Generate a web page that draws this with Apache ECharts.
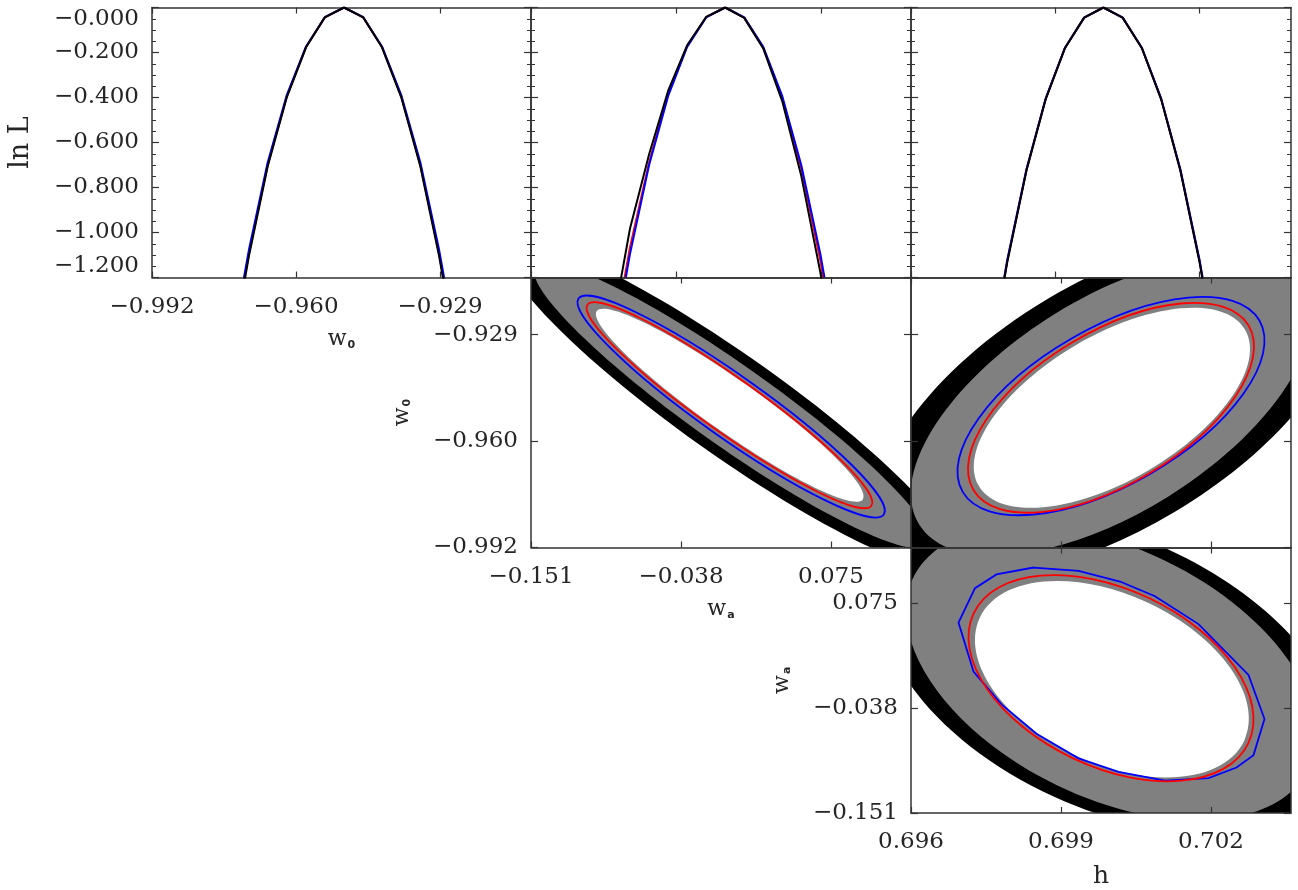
<!DOCTYPE html>
<html>
<head>
<meta charset="utf-8">
<script src="https://cdn.jsdelivr.net/npm/echarts@6/dist/echarts.min.js"></script>
<style>
html, body { margin: 0; padding: 0; background: #fff; }
#chart { width: 1298px; height: 890px; }
</style>
</head>
<body>
<div id="chart"></div>
<script>
// ---- tick labels ----
var w0Ticks = [-0.992, -0.9605, -0.929];
var w0TickText = ['\u22120.992', '\u22120.960', '\u22120.929'];
var waTicks = [-0.151, -0.038, 0.075];
var waTickText = ['\u22120.151', '\u22120.038', '0.075'];
var hTicks = [0.696, 0.699, 0.702];
var hTickText = ['0.696', '0.699', '0.702'];

// axis ranges (1D panels are a little wider than the 2D ones)
var w0Range1D = [-0.992, -0.9091], w0Range2D = [-0.992, -0.9121];
var waRange1D = [-0.151, 0.1445], waRange2D = [-0.151, 0.1353];
var hRange1D = [0.696, 0.7039], hRange2D = [0.696, 0.7036];

// ---- 1D profiles (ln L) ----
var w0Grid = [-0.975, -0.9708, -0.9667, -0.9625, -0.9583, -0.9542, -0.95, -0.9458, -0.9417, -0.9375, -0.9333, -0.9292, -0.925];
var w0Black = [-1.591, -1.105, -0.707, -0.398, -0.177, -0.044, 0, -0.044, -0.177, -0.398, -0.707, -1.105, -1.591];
var w0Red = [-1.575, -1.094, -0.700, -0.394, -0.175, -0.044, 0, -0.044, -0.175, -0.394, -0.700, -1.094, -1.575];
var w0Blue = [-1.551, -1.077, -0.689, -0.388, -0.173, -0.043, 0, -0.043, -0.173, -0.388, -0.689, -1.077, -1.551];

var waGrid = [-0.0888, -0.074, -0.0592, -0.0444, -0.0296, -0.0148, 0, 0.0148, 0.0296, 0.0444, 0.0592, 0.074, 0.0888];
var waBlack = [-1.450, -0.982, -0.653, -0.371, -0.168, -0.042, 0, -0.046, -0.182, -0.417, -0.749, -1.177, -1.704];
var waRed = [-1.540, -1.065, -0.690, -0.385, -0.172, -0.043, 0, -0.045, -0.178, -0.403, -0.715, -1.125, -1.615];
var waBlue = [-1.577, -1.095, -0.701, -0.394, -0.175, -0.044, 0, -0.044, -0.175, -0.394, -0.701, -1.095, -1.577];

var hGrid = [0.6976, 0.698, 0.6984, 0.6988, 0.6992, 0.6996, 0.7, 0.7004, 0.7008, 0.7012, 0.7016, 0.702, 0.7024];
var hBlack = [-1.633, -1.134, -0.726, -0.408, -0.181, -0.045, 0, -0.045, -0.181, -0.408, -0.726, -1.134, -1.633];
var hRed = [-1.625, -1.128, -0.722, -0.406, -0.180, -0.045, 0, -0.045, -0.180, -0.406, -0.722, -1.128, -1.625];
var hBlue = [-1.617, -1.123, -0.719, -0.404, -0.179, -0.045, 0, -0.045, -0.179, -0.404, -0.719, -1.123, -1.617];

// ---- 2D contours: [centre x, centre y, half-width x, half-height y, correlation] ----
// w0 (y) against wa (x)
var bBlack = [0, -0.95, 0.1705, 0.04854, -0.928];
var bGrey = [0, -0.95, 0.1486, 0.04215, -0.939];
var bWhite = [-0.0012, -0.9499, 0.1009, 0.02857, -0.944];
var bBlue = [-0.0002, -0.9503, 0.1158, 0.03283, -0.940];
var bRed = [-0.0015, -0.9499, 0.10765, 0.03047, -0.945];
// w0 (y) against h (x)
var cBlack = [0.7, -0.95, 0.0047, 0.05087, 0.588];
var cGrey = [0.7, -0.95, 0.0040, 0.04437, 0.588];
var cWhite = [0.70002, -0.95065, 0.00276, 0.02958, 0.588];
var cBlue = [0.7, -0.95015, 0.00307, 0.0323, 0.600];
var cRed = [0.7, -0.95065, 0.00286, 0.03106, 0.585];
// wa (y) against h (x)
var dBlack = [0.7, 0, 0.0046, 0.17263, -0.423];
var dGrey = [0.7, 0, 0.0041, 0.15886, -0.423];
var dWhite = [0.70002, -0.0067, 0.00274, 0.10591, -0.40];
var dRed = [0.7, -0.0056, 0.00285, 0.1112, -0.40];
// the blue wa-h contour is a coarse polygon
var dBlueH = [0.69845, 0.69935, 0.70018, 0.70088, 0.70175, 0.70275, 0.70307, 0.70285, 0.70251, 0.70195, 0.70108, 0.70015, 0.69935, 0.69851, 0.69781, 0.69725, 0.69695, 0.69728, 0.69771];
var dBlueWa = [0.1137, 0.1102, 0.0986, 0.0827, 0.0527, -0.0021, -0.0497, -0.0886, -0.1020, -0.1133, -0.1161, -0.1066, -0.0921, -0.0656, -0.0338, 0.0015, 0.0544, 0.0915, 0.1063];

var FONT = 'DejaVu Serif';
var INK = '#333';
var TXT = '#262626';

var grids = [
  {left: 152, top: 7.5, width: 379, height: 270},
  {left: 531, top: 7.5, width: 380, height: 270},
  {left: 911, top: 7.5, width: 380, height: 270},
  {left: 531, top: 277.5, width: 380, height: 270},
  {left: 911, top: 277.5, width: 380, height: 270},
  {left: 911, top: 547.5, width: 380, height: 270}
];

var nameRich = {
  v: {fontFamily: FONT, fontSize: 22, color: TXT, verticalAlign: 'bottom'},
  s: {fontFamily: 'DejaVu Sans', fontSize: 11, fontWeight: 'bold', color: TXT, verticalAlign: 'bottom', padding: [0, 0, 0, 1]}
};

var xSpec = [
  {range: w0Range1D, ticks: w0Ticks, text: w0TickText, label: true, name: '{v|w}{s|0}', gap: 51},
  {range: waRange1D, ticks: waTicks, text: waTickText},
  {range: hRange1D, ticks: hTicks, text: hTickText},
  {range: waRange2D, ticks: waTicks, text: waTickText, label: true, name: '{v|w}{s|a}', gap: 51},
  {range: hRange2D, ticks: hTicks, text: hTickText},
  {range: hRange2D, ticks: hTicks, text: hTickText, label: true, name: 'h', gap: 51, size: 25}
];
var ySpec = [
  {lnL: true, label: true, name: 'ln L', gap: 118, size: 27},
  {lnL: true},
  {lnL: true},
  {range: w0Range2D, ticks: w0Ticks, text: w0TickText, label: true, name: '{v|w}{s|0}', gap: 118},
  {range: w0Range2D, ticks: w0Ticks, text: w0TickText},
  {range: waRange2D, ticks: waTicks, text: waTickText, label: true, name: '{v|w}{s|a}', gap: 118}
];

function fmtFrom(vals, texts) {
  return function (v) {
    for (var i = 0; i < vals.length; i++) {
      if (Math.abs(vals[i] - v) < 1e-7) return texts[i];
    }
    return '';
  };
}

function makeAxis(spec, gi, pos, isY) {
  var primary = (pos === 'bottom' || pos === 'left');
  var ax = {
    type: 'value', gridIndex: gi, position: pos, z: 5,
    axisLine: {show: true, onZero: false, lineStyle: {color: INK, width: 1.5}},
    splitLine: {show: false},
    axisTick: {show: true, inside: true, length: isY ? 7 : 6, lineStyle: {color: INK, width: 1.2}},
    axisLabel: {show: primary && !!spec.label, fontFamily: FONT, fontSize: 23, color: TXT, margin: isY ? 13 : 18}
  };
  if (spec.lnL) {
    ax.min = -1.2; ax.max = 0; ax.interval = 0.2;
    ax.minorTick = {show: true, splitNumber: 4, length: 4, lineStyle: {color: INK, width: 1}};
    ax.axisLabel.formatter = function (v) { return '\u2212' + Math.abs(v).toFixed(3); };
    ax.axisLabel.verticalAlignMinLabel = 'bottom';
    ax.axisLabel.verticalAlignMaxLabel = 'top';
  } else {
    ax.min = spec.range[0]; ax.max = spec.range[1];
    ax.axisTick.customValues = spec.ticks;
    ax.axisLabel.customValues = spec.ticks;
    ax.axisLabel.formatter = fmtFrom(spec.ticks, spec.text);
  }
  if (primary && spec.name) {
    ax.name = spec.name;
    ax.nameLocation = 'middle';
    ax.nameGap = spec.gap;
    ax.nameTextStyle = {fontFamily: FONT, fontSize: spec.size || 22, color: TXT, rich: nameRich};
    if (isY) ax.nameRotate = 90;
  }
  return ax;
}

var xAxes = [], yAxes = [];
for (var g = 0; g < grids.length; g++) {
  xAxes.push(makeAxis(xSpec[g], g, 'bottom', false));
  xAxes.push(makeAxis(xSpec[g], g, 'top', false));
  yAxes.push(makeAxis(ySpec[g], g, 'left', true));
  yAxes.push(makeAxis(ySpec[g], g, 'right', true));
}

function pairs(xs, ys) {
  var out = [];
  for (var i = 0; i < xs.length; i++) out.push([xs[i], ys[i]]);
  return out;
}

function profile(gi, xs, ys, color, z) {
  return {
    type: 'line', xAxisIndex: gi * 2, yAxisIndex: gi * 2, data: pairs(xs, ys),
    showSymbol: false, clip: true, z: z, silent: true,
    lineStyle: {color: color, width: 2}
  };
}

// ellipse given by centre, half extents and correlation, mapped through the axes
function ellipse(gi, p, fill, stroke, lw, z) {
  return {
    type: 'custom', xAxisIndex: gi * 2, yAxisIndex: gi * 2, clip: true, silent: true, z: z,
    data: [[p[0], p[1]]],
    renderItem: function (params, api) {
      var c = api.coord([p[0], p[1]]);
      var s = api.size([p[2], p[3]]);
      var X = Math.abs(s[0]), Y = Math.abs(s[1]);
      var sxy = -p[4] * X * Y;          // screen y grows downwards
      var m = (X * X + Y * Y) / 2;
      var d = Math.sqrt(Math.pow((X * X - Y * Y) / 2, 2) + sxy * sxy);
      var phi = 0.5 * Math.atan2(2 * sxy, X * X - Y * Y);
      return {
        type: 'ellipse', x: c[0], y: c[1], rotation: -phi,
        shape: {cx: 0, cy: 0, rx: Math.sqrt(m + d), ry: Math.sqrt(Math.max(m - d, 0.01))},
        style: {fill: fill, stroke: stroke, lineWidth: lw}
      };
    }
  };
}

function polygon(gi, xs, ys, stroke, lw, z) {
  var pts = pairs(xs, ys);
  return {
    type: 'custom', xAxisIndex: gi * 2, yAxisIndex: gi * 2, clip: true, silent: true, z: z,
    data: pts,
    renderItem: function (params, api) {
      if (params.dataIndex !== 0) return null;
      var p = pts.map(function (d) { return api.coord(d); });
      return {type: 'polygon', shape: {points: p}, style: {fill: 'none', stroke: stroke, lineWidth: lw}};
    }
  };
}

var series = [
  profile(0, w0Grid, w0Red, '#ff0000', 3),
  profile(0, w0Grid, w0Blue, '#0000ff', 4),
  profile(0, w0Grid, w0Black, '#000000', 5),
  profile(1, waGrid, waRed, '#ff0000', 3),
  profile(1, waGrid, waBlue, '#0000ff', 4),
  profile(1, waGrid, waBlack, '#000000', 5),
  profile(2, hGrid, hRed, '#ff0000', 3),
  profile(2, hGrid, hBlue, '#0000ff', 4),
  profile(2, hGrid, hBlack, '#000000', 5),

  ellipse(3, bBlack, '#000000', null, 0, 1),
  ellipse(3, bGrey, '#808080', null, 0, 2),
  ellipse(3, bWhite, '#ffffff', null, 0, 3),
  ellipse(3, bBlue, 'none', '#0000ff', 1.8, 4),
  ellipse(3, bRed, 'none', '#ff0000', 1.8, 5),

  ellipse(4, cBlack, '#000000', null, 0, 1),
  ellipse(4, cGrey, '#808080', null, 0, 2),
  ellipse(4, cWhite, '#ffffff', null, 0, 3),
  ellipse(4, cBlue, 'none', '#0000ff', 1.8, 4),
  ellipse(4, cRed, 'none', '#ff0000', 1.8, 5),

  ellipse(5, dBlack, '#000000', null, 0, 1),
  ellipse(5, dGrey, '#808080', null, 0, 2),
  ellipse(5, dWhite, '#ffffff', null, 0, 3),
  polygon(5, dBlueH, dBlueWa, '#0000ff', 1.8, 4),
  ellipse(5, dRed, 'none', '#ff0000', 1.8, 5)
];

var chart = echarts.init(document.getElementById('chart'), null, {renderer: 'canvas'});
chart.setOption({
  animation: false,
  backgroundColor: '#ffffff',
  grid: grids,
  xAxis: xAxes,
  yAxis: yAxes,
  series: series
});
</script>
</body>
</html>
